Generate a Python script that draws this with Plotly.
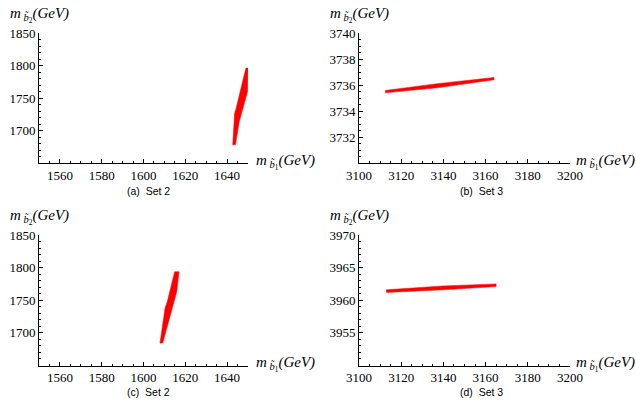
import plotly.graph_objects as go

W, H = 636, 400

# ---- data (polygon outlines of the allowed regions) ----
a_x = [1642.7, 1643.6, 1644.3, 1646.5, 1649.0, 1650.0, 1649.8, 1645.8, 1644.0, 1642.7]
a_y = [1678.0, 1726.5, 1734.0, 1765.0, 1796.0, 1796.0, 1760.0, 1713.5, 1678.0, 1678.0]

b_x = [3112.5, 3137.0, 3164.0, 3164.0, 3137.0, 3112.5, 3112.5]
b_y = [3735.58, 3736.10, 3736.58, 3736.40, 3735.78, 3735.40, 3735.58]

c_x = [1607.9, 1610.3, 1611.4, 1614.9, 1617.0, 1615.9, 1609.2, 1607.9]
c_y = [1684.3, 1737.8, 1748.0, 1793.8, 1793.8, 1763.2, 1684.3, 1684.3]

d_x = [3113.0, 3140.0, 3165.0, 3165.0, 3140.0, 3113.0, 3113.0]
d_y = [3961.6, 3962.2, 3962.5, 3962.1, 3961.6, 3961.2, 3961.6]

ax_x_ticks = [1560, 1580, 1600, 1620, 1640]
ax_y_ticks = [1700, 1750, 1800, 1850]
bx_x_ticks = [3100, 3120, 3140, 3160, 3180, 3200]
b_y_ticks = [3732, 3734, 3736, 3738, 3740]
d_y_ticks = [3955, 3960, 3965, 3970]

captions = ["(a)  Set 2", "(b)  Set 3", "(c)  Set 2", "(d)  Set 3"]

def px_x(p):
    return p / W

def px_y(p):
    return 1 - p / H

panels = [
    dict(x=a_x, y=a_y, xr=[1550, 1650], yr=[1650, 1850], xt=ax_x_ticks, yt=ax_y_ticks,
         xd=[39, 248], yd=[163, 33], xdt=5, ydt=10),
    dict(x=b_x, y=b_y, xr=[3100, 3200], yr=[3730, 3740], xt=bx_x_ticks, yt=b_y_ticks,
         xd=[359, 570], yd=[163, 33], xdt=5, ydt=0.5),
    dict(x=c_x, y=c_y, xr=[1550, 1650], yr=[1650, 1850], xt=ax_x_ticks, yt=ax_y_ticks,
         xd=[39, 248], yd=[365.5, 235], xdt=5, ydt=10),
    dict(x=d_x, y=d_y, xr=[3100, 3200], yr=[3950, 3970], xt=bx_x_ticks, yt=d_y_ticks,
         xd=[359, 570], yd=[365.5, 235], xdt=5, ydt=1),
]

fig = go.Figure()
serif = "Liberation Serif"
tickfont = dict(family=serif, size=13, color="black")

for i, p in enumerate(panels):
    n = "" if i == 0 else str(i + 1)
    fig.add_trace(go.Scatter(
        x=p["x"], y=p["y"], mode="lines", fill="toself",
        fillcolor="red", line=dict(color="red", width=0.5),
        xaxis="x" + n, yaxis="y" + n, showlegend=False, hoverinfo="skip"))
    xa = dict(domain=[px_x(p["xd"][0]), px_x(p["xd"][1])], range=p["xr"],
              anchor="y" + n, showline=True, linecolor="black", linewidth=1,
              showgrid=False, zeroline=False, ticks="inside", ticklen=4, automargin=False,
              tickcolor="black", tickvals=p["xt"], tickfont=tickfont,
              minor=dict(ticks="inside", ticklen=2, dtick=p["xdt"], tickcolor="black", showgrid=False))
    ya = dict(domain=[px_y(p["yd"][0]), px_y(p["yd"][1])], range=p["yr"],
              anchor="x" + n, showline=True, linecolor="black", linewidth=1,
              showgrid=False, zeroline=False, ticks="inside", ticklen=4, automargin=False,
              tickcolor="black", tickvals=p["yt"], tickfont=tickfont,
              minor=dict(ticks="inside", ticklen=2, dtick=p["ydt"], tickcolor="black", showgrid=False))
    fig.layout["xaxis" + n] = xa
    fig.layout["yaxis" + n] = ya

ytitle = "<i>m</i><sub> <i>b\u0303</i><sub>2</sub></sub><i>(GeV)</i>"
xtitle = "<i>m</i><sub> <i>b\u0303</i><sub>1</sub></sub><i>(GeV)</i>"
tfont = dict(family=serif, size=15, color="black")
capfont = dict(family="Liberation Sans", size=10.5, color="black")

ann = []
for (yx, yy, xx, xy) in [(8, 15, 254, 162), (328, 15, 574, 162), (8, 217, 254, 364), (328, 217, 574, 364)]:
    ann.append(dict(text=ytitle, x=px_x(yx), y=px_y(yy), xref="paper", yref="paper",
                    xanchor="left", yanchor="middle", showarrow=False, font=tfont))
    ann.append(dict(text=xtitle, x=px_x(xx), y=px_y(xy), xref="paper", yref="paper",
                    xanchor="left", yanchor="middle", showarrow=False, font=tfont))
for cap, cx, cy in zip(captions, [148, 481, 148, 481], [191, 191, 392, 392]):
    ann.append(dict(text=cap, x=px_x(cx), y=px_y(cy), xref="paper", yref="paper",
                    xanchor="center", yanchor="middle", showarrow=False, font=capfont))

fig.update_layout(width=W, height=H, margin=dict(l=0, r=0, t=0, b=0, autoexpand=False),
                  font=dict(family=serif, color="black"),
                  paper_bgcolor="white", plot_bgcolor="white", annotations=ann)

fig.write_html("out.html")
